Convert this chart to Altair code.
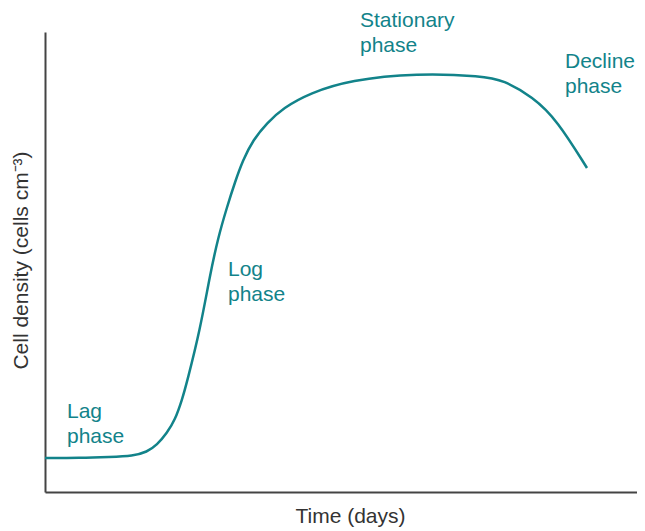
import altair as alt
import pandas as pd

# Curve (time, cell density in arbitrary units)
time = [0, 35, 65, 88, 102, 112, 122, 130, 137, 142, 155, 165, 173, 182, 190, 198, 208, 222, 238, 265, 305, 372, 438, 458, 488, 512, 542]
density = [34, 34, 35, 36, 40, 47, 59, 72, 92, 110, 162, 217, 254, 285, 310, 332, 352, 369, 384, 399, 412, 419, 416, 412, 395, 372, 324]

label_text = [["Lag", "phase"], ["Log", "phase"], ["Stationary", "phase"], ["Decline", "phase"]]
label_x = [22, 183, 315, 520]
label_y = [74, 216, 465, 424]

TEAL = "#12838a"

curve = pd.DataFrame({"t": time, "d": density})
labels = pd.DataFrame({"x": label_x, "y": label_y, "text": label_text})

xs = alt.Scale(domain=[0, 592], nice=False, zero=False)
ys = alt.Scale(domain=[0, 460], nice=False, zero=False)

line = alt.Chart(curve).mark_line(
    color=TEAL, strokeWidth=2.5, interpolate="basis"
).encode(
    x=alt.X("t:Q", scale=xs, title="Time (days)",
            axis=alt.Axis(labels=False, ticks=False, grid=False, domainColor="#444",
                          domainWidth=2, titleFontSize=21, titleFont="Liberation Sans",
                          titleFontWeight="normal", titleColor="#333", titlePadding=13,
                          titleX=305)),
    y=alt.Y("d:Q", scale=ys, title="Cell density (cells cm⁻³)",
            axis=alt.Axis(labels=False, ticks=False, grid=False, domainColor="#444",
                          domainWidth=2, titleFontSize=21, titleFont="Liberation Sans",
                          titleFontWeight="normal", titleColor="#333", titlePadding=14,
                          titleY=228)),
)

text = alt.Chart(labels).mark_text(
    align="left", baseline="alphabetic", fontSize=21, font="Liberation Sans",
    color=TEAL, lineHeight=25
).encode(
    x=alt.X("x:Q", scale=xs),
    y=alt.Y("y:Q", scale=ys),
    text="text",
)

chart = (line + text).properties(
    width=592, height=460,
    autosize=alt.AutoSizeParams(type="none"),
    padding={"left": 37, "top": 24, "right": 0, "bottom": 39},
).configure_view(stroke=None)

chart.save("out.html", embed_options={"renderer": "svg", "actions": False})
